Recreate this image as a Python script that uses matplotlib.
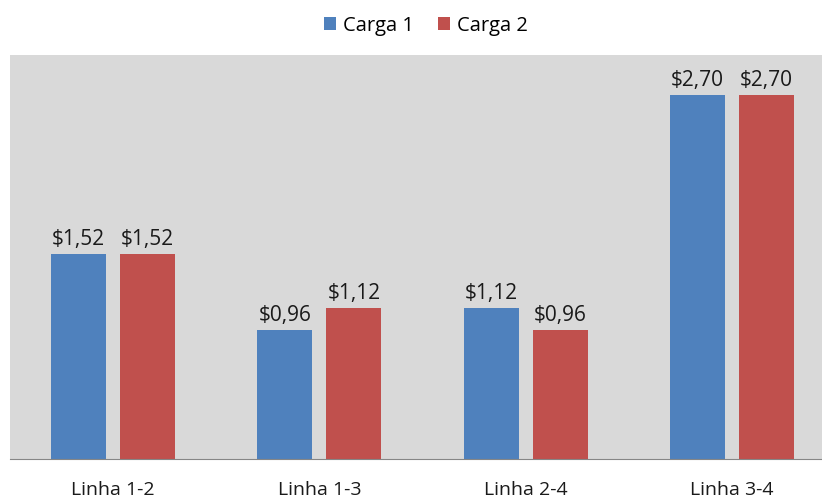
import numpy as np
from matplotlib import pyplot as plt

# dados do gráfico
categorias = ['Linha 1-2', 'Linha 1-3', 'Linha 2-4', 'Linha 3-4']
carga1 = [1.52, 0.96, 1.12, 2.70]
carga2 = [1.52, 1.12, 0.96, 2.70]
series = ['Carga 1', 'Carga 2']

azul = '#4F81BD'
vermelho = '#C0504D'

plt.rcParams['font.family'] = ['Open Sans', 'DejaVu Sans']

fig = plt.figure(figsize=(8.22, 5.03), dpi=100)
ax = fig.add_axes([10 / 822, (503 - 459) / 503, 1 - 10 / 822, (459 - 55) / 503])
ax.set_facecolor('#D9D9D9')

x = np.arange(len(categorias))
w = 0.267
off = 0.1675
b1 = ax.bar(x - off, carga1, w, color=azul, label=series[0])
b2 = ax.bar(x + off, carga2, w, color=vermelho, label=series[1])

fmt = lambda v: '$' + f'{v:.2f}'.replace('.', ',')
for bars, vals in ((b1, carga1), (b2, carga2)):
    for b, v in zip(bars, vals):
        ax.annotate(fmt(v), (b.get_x() + b.get_width() / 2, v),
                    xytext=(0, 3), textcoords='offset points',
                    ha='center', va='bottom', fontsize=15, color='#1a1a1a')

ax.set_xlim(-0.5, 3.5 - 13 / 206)
ax.set_ylim(0, 3.0)
ax.set_yticks([])
ax.set_xticks(x)
ax.set_xticklabels(categorias, fontsize=14, color='#1a1a1a')
ax.tick_params(axis='x', length=0, pad=16)
for s in ['top', 'right', 'left']:
    ax.spines[s].set_visible(False)
ax.spines['bottom'].set_color('#868686')

fig.legend(loc='upper center', bbox_to_anchor=(0.518, 1.005), ncol=2, frameon=False,
           fontsize=14.5, handlelength=0.6, handleheight=0.6, handletextpad=0.35,
           columnspacing=1.2)

plt.savefig('out.png', dpi=100)
